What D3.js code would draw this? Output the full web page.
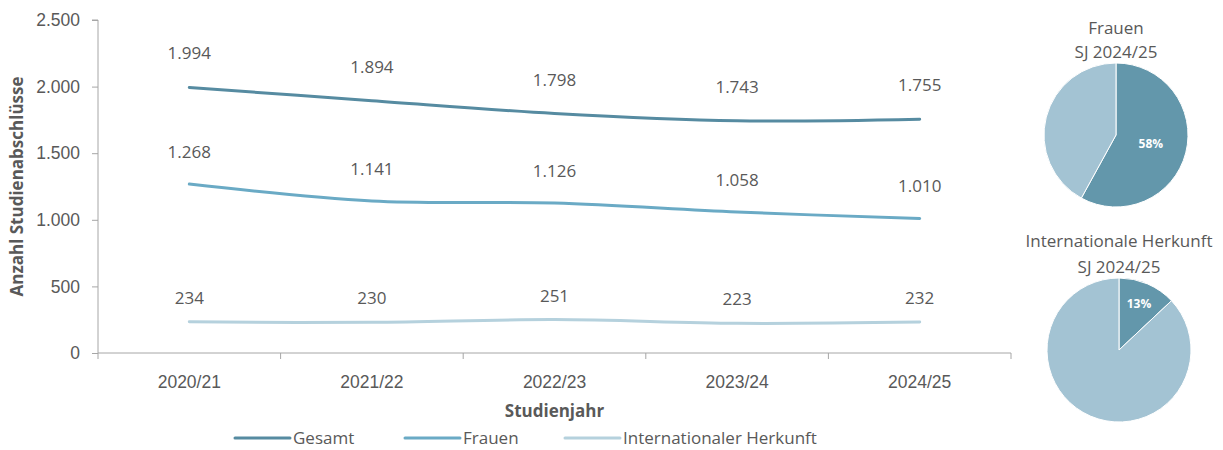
<!DOCTYPE html>
<html>
  <head>
    <meta charset="UTF-8">
    <style>
      body {
        margin: 0;
        font-family: "Open Sans", "Noto Sans", sans-serif;
        background: white;
      }

      .axis text {
        fill: #595959;
        font-size: 17.5px;
      }

      .axis line,
      .axis .domain {
        stroke: #a6a6a6;
      }

      .value-label,
      .pie-title,
      .legend text {
        fill: #595959;
        font-size: 17px;
      }

      .axis-title {
        fill: #595959;
        font-size: 17px;
        font-weight: bold;
      }
    </style>
    <script src="https://d3js.org/d3.v7.min.js"></script>
  </head>

  <body>
    <svg id="chart"></svg>

    <script type="text/javascript">
      let years = ['2020/21', '2021/22', '2022/23', '2023/24', '2024/25']
      let seriesNames = ['Gesamt', 'Frauen', 'Internationaler Herkunft']
      let gesamt = [1994, 1894, 1798, 1743, 1755]
      let frauen = [1268, 1141, 1126, 1058, 1010]
      let international = [234, 230, 251, 223, 232]
      let yTicks = [0, 500, 1000, 1500, 2000, 2500]
      let seriesColors = ['#568ba1', '#6aaac5', '#b5d1dd']

      let pieTitles = [['Frauen', 'SJ 2024/25'], ['Internationale Herkunft', 'SJ 2024/25']]
      let pieShares = [58, 13]
      let pieColors = ['#6397ab', '#a3c3d3']

      function getChartConfig() {
        let width = 1223
        let height = 450
        let margin = { top: 20, bottom: 97, left: 98, right: 212 }
        let bodyWidth = width - margin.left - margin.right
        let bodyHeight = height - margin.top - margin.bottom

        let container = d3.select('#chart')
          .attr('width', width)
          .attr('height', height)

        return { width, height, margin, bodyWidth, bodyHeight, container }
      }

      function getChartScales(config) {
        let xScale = d3.scaleBand()
          .domain(years)
          .range([0, config.bodyWidth])

        let yScale = d3.scaleLinear()
          .domain([0, 2500])
          .range([config.bodyHeight, 0])

        return { xScale, yScale }
      }

      function formatNumber(v) {
        return d3.format(',')(v).replace(/,/g, '.')
      }

      function drawAxes(scales, config) {
        let axisY = d3.axisLeft(scales.yScale)
          .tickValues(yTicks)
          .tickSize(6)
          .tickPadding(12)
          .tickFormat(formatNumber)
        config.container.append('g')
          .attr('class', 'axis')
          .attr('transform', `translate(${config.margin.left}, ${config.margin.top})`)
          .call(axisY)
          .call(g => g.select('.domain').attr('d', `M-6,0H0V${config.bodyHeight}`))

        let axisX = d3.axisBottom(scales.xScale)
          .tickSize(0)
          .tickPadding(23)
        let gx = config.container.append('g')
          .attr('class', 'axis')
          .attr('transform', `translate(${config.margin.left}, ${config.margin.top + config.bodyHeight})`)
          .call(axisX)
        gx.select('.domain').attr('d', `M0,6V0H${config.bodyWidth}V6`)
        gx.selectAll('.band-tick')
          .data(years.slice(1))
          .enter()
          .append('line')
          .attr('x1', d => scales.xScale(d))
          .attr('x2', d => scales.xScale(d))
          .attr('y1', 0)
          .attr('y2', 6)

        config.container.append('text')
          .attr('class', 'axis-title')
          .attr('text-anchor', 'middle')
          .attr('transform', `translate(23, ${config.margin.top + config.bodyHeight / 2}) rotate(-90)`)
          .text('Anzahl Studienabschlüsse')

        config.container.append('text')
          .attr('class', 'axis-title')
          .attr('text-anchor', 'middle')
          .attr('x', config.margin.left + config.bodyWidth / 2)
          .attr('y', 417)
          .text('Studienjahr')
      }

      function drawLines(scales, config) {
        let g = config.container.append('g')
          .attr('transform', `translate(${config.margin.left}, ${config.margin.top})`)
        let x = d => scales.xScale(d) + scales.xScale.bandwidth() / 2
        let line = d3.line()
          .x(d => x(d.year))
          .y(d => scales.yScale(d.value))
          .curve(d3.curveCatmullRom.alpha(0.5))

        let labelOffsets = [28, 26, 18]
        let allSeries = [gesamt, frauen, international]
        allSeries.forEach((values, i) => {
          let data = values.map((v, j) => ({ year: years[j], value: v }))
          g.append('path')
            .datum(data)
            .attr('d', line)
            .attr('fill', 'none')
            .attr('stroke', seriesColors[i])
            .attr('stroke-width', 3)
            .attr('stroke-linecap', 'round')

          g.selectAll(null)
            .data(data)
            .enter()
            .append('text')
            .attr('class', 'value-label')
            .attr('text-anchor', 'middle')
            .attr('x', d => x(d.year))
            .attr('y', d => scales.yScale(d.value) - labelOffsets[i])
            .text(d => formatNumber(d.value))
        })
      }

      function drawLegend(config) {
        let positions = [235, 405, 565]
        let g = config.container.append('g').attr('class', 'legend')
        seriesNames.forEach((name, i) => {
          g.append('line')
            .attr('x1', positions[i])
            .attr('x2', positions[i] + 55)
            .attr('y1', 438)
            .attr('y2', 438)
            .attr('stroke', seriesColors[i])
            .attr('stroke-width', 3)
            .attr('stroke-linecap', 'round')
          g.append('text')
            .attr('x', positions[i] + 58)
            .attr('y', 444)
            .text(name)
        })
      }

      function drawPies(config) {
        let centers = [[1116, 135], [1119, 350]]
        let radius = 72
        let titleY = [[34, 58], [247, 273]]
        let arc = d3.arc().innerRadius(0).outerRadius(radius)
        let pie = d3.pie().sort(null).value(d => d)
        let labelRadius = [0.5, 0.7]

        pieShares.forEach((share, i) => {
          let g = config.container.append('g')
            .attr('transform', `translate(${centers[i][0]}, ${centers[i][1]})`)
          let arcs = pie([share, 100 - share])
          g.selectAll('path')
            .data(arcs)
            .enter()
            .append('path')
            .attr('d', arc)
            .attr('fill', (d, j) => pieColors[j])
            .attr('stroke', 'white')
            .attr('stroke-width', 1)

          let r = radius * labelRadius[i]
          let c = d3.arc().innerRadius(r).outerRadius(r).centroid(arcs[0])
          g.append('text')
            .attr('x', c[0])
            .attr('y', c[1] + 4)
            .attr('text-anchor', 'middle')
            .attr('fill', 'white')
            .attr('font-size', 12)
            .attr('font-weight', 'bold')
            .text(share + '%')

          pieTitles[i].forEach((t, k) => {
            config.container.append('text')
              .attr('class', 'pie-title')
              .attr('text-anchor', 'middle')
              .attr('x', centers[i][0])
              .attr('y', titleY[i][k])
              .text(t)
          })
        })
      }

      let config = getChartConfig()
      let scales = getChartScales(config)
      drawAxes(scales, config)
      drawLines(scales, config)
      drawLegend(config)
      drawPies(config)
    </script>
  </body>
</html>
